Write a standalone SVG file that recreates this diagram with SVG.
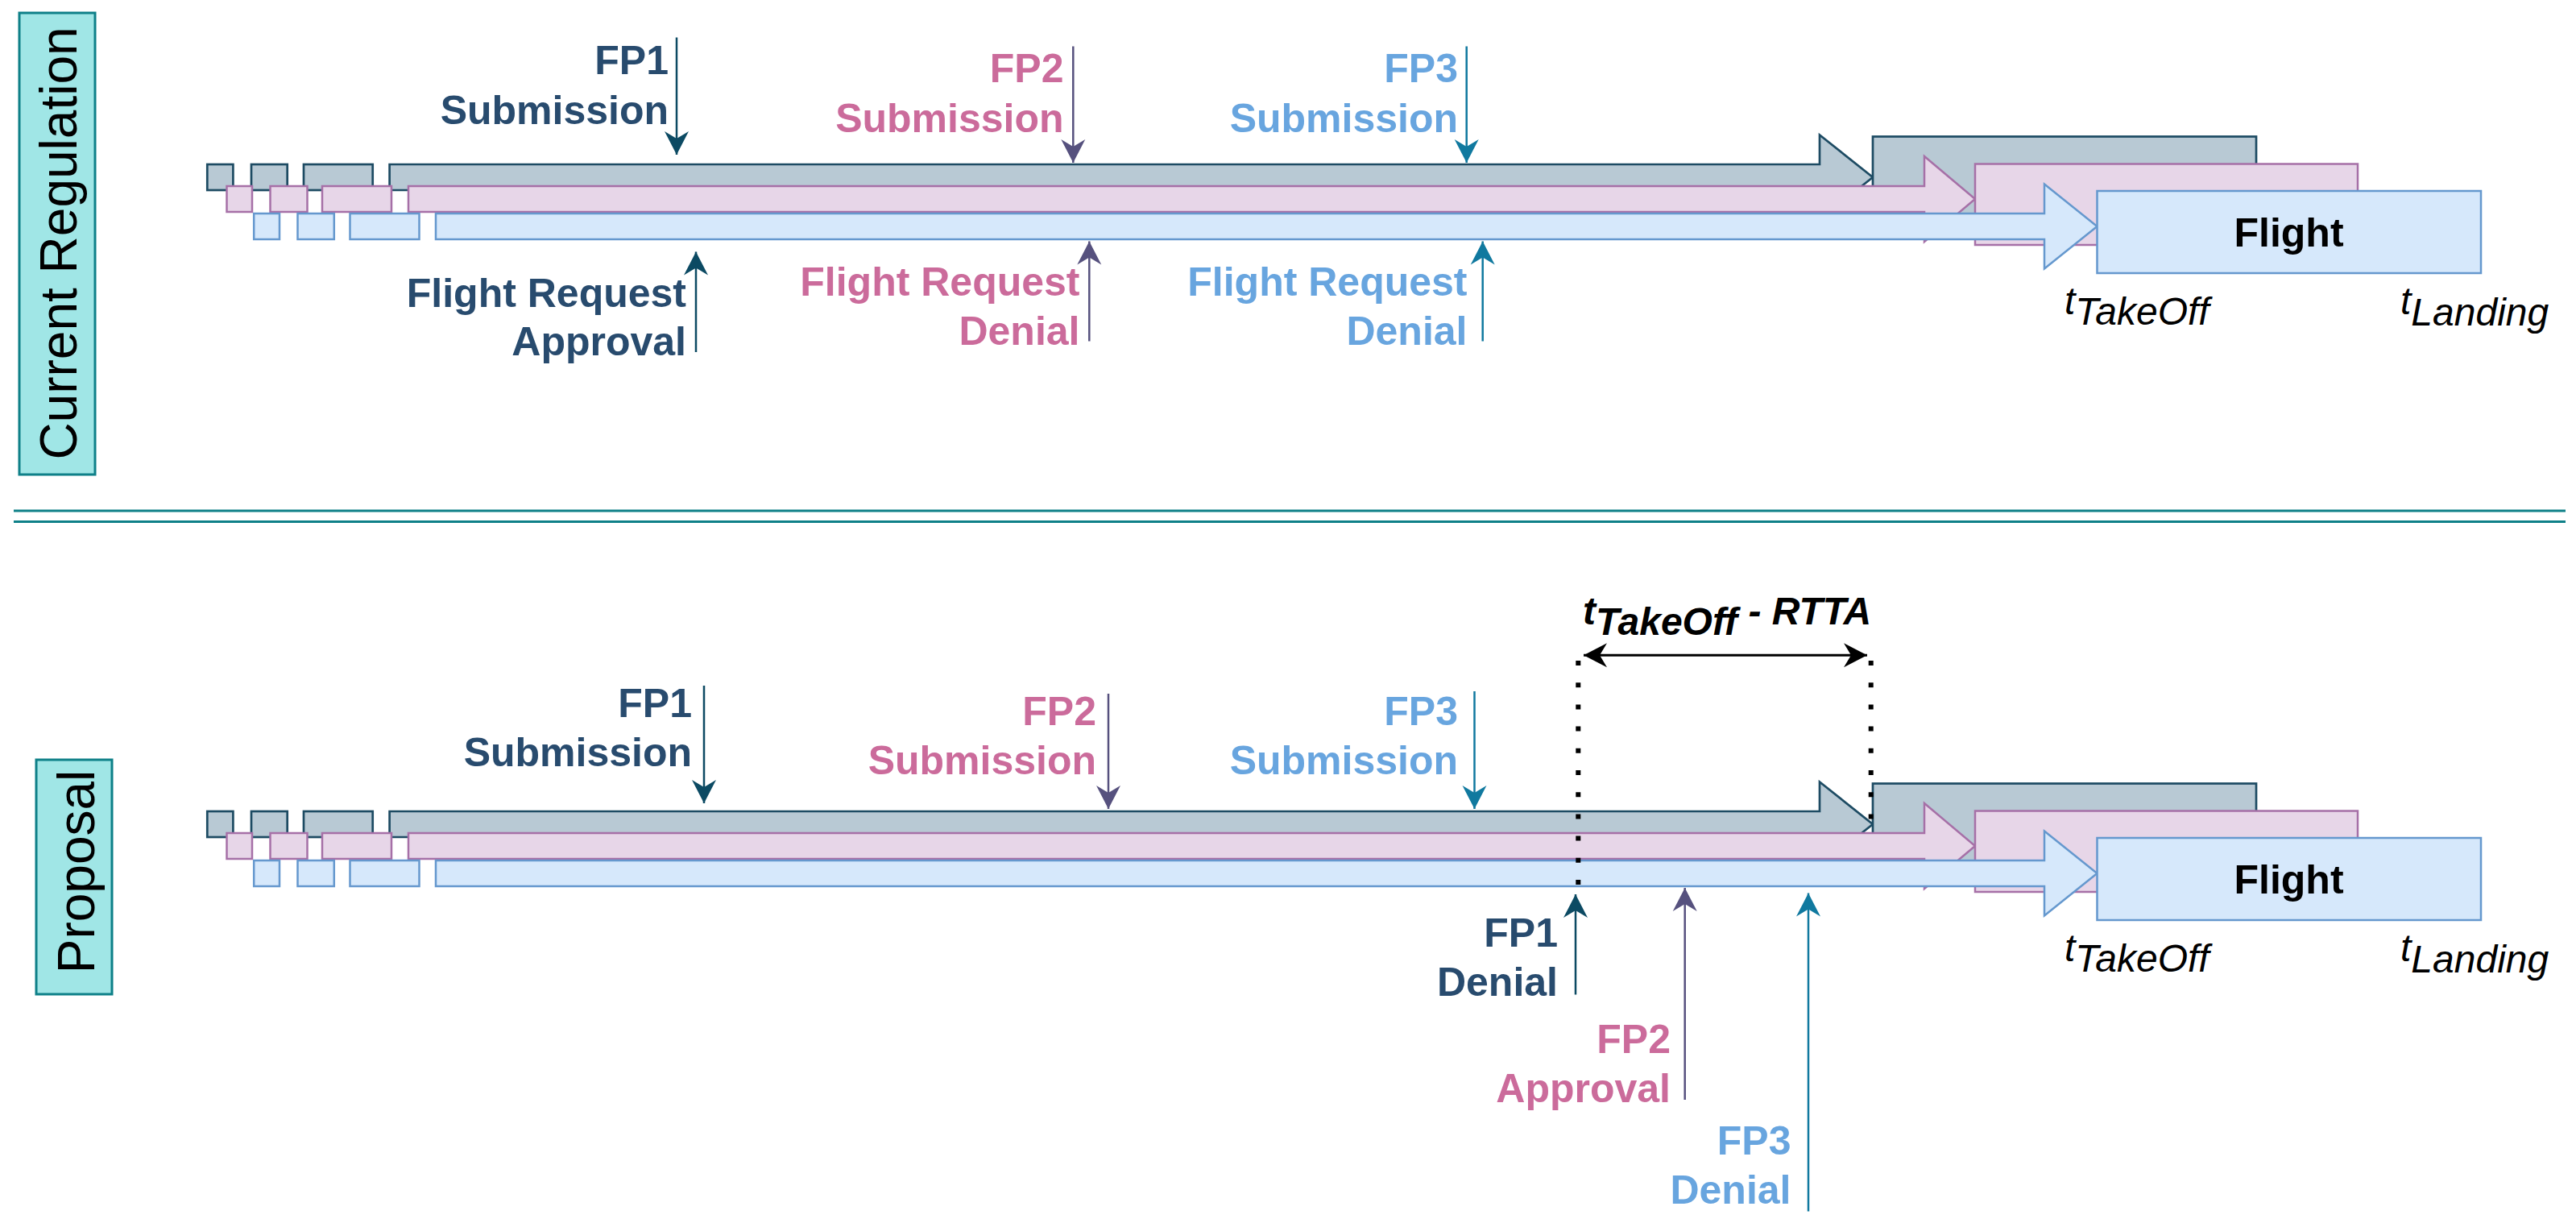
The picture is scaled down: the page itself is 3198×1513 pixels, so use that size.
<svg xmlns="http://www.w3.org/2000/svg" width="3198" height="1513" viewBox="0 0 3198 1513">
<style>
.lbl{font-family:"Liberation Sans",Arial,Helvetica,sans-serif;font-weight:bold;font-size:50px;text-anchor:end}
.dk{fill:#284B6E}.pk{fill:#CB6B9B}.bl{fill:#68A5DF}
.tl{font-family:"Liberation Sans",Arial,Helvetica,sans-serif;font-style:italic;font-size:48px;fill:#000}
.ttl{font-family:"Liberation Sans",Arial,Helvetica,sans-serif;font-size:64px;fill:#000;text-anchor:middle}
.fl{font-family:"Liberation Sans",Arial,Helvetica,sans-serif;font-weight:bold;font-size:50px;fill:#000;text-anchor:middle}
.rowD{fill:#B8C9D4;stroke:#1D4B63;stroke-width:2.7}
.rowP{fill:#E7D6E8;stroke:#A670A7;stroke-width:2.5}
.rowB{fill:#D6E8FB;stroke:#6598CE;stroke-width:2.5}
.box{fill:#A0E6E6;stroke:#0E8088;stroke-width:3}
.sep{stroke:#0E8088;stroke-width:3;fill:none}
.aD{stroke:#0C4A63;stroke-width:2.5;fill:none;marker-end:url(#mD)}
.aP{stroke:#56517E;stroke-width:2.5;fill:none;marker-end:url(#mP)}
.aT{stroke:#10799F;stroke-width:2.5;fill:none;marker-end:url(#mT)}
.dbl{stroke:#000;stroke-width:3;fill:none;marker-start:url(#mK);marker-end:url(#mK)}
.dot{stroke:#000;stroke-width:6;fill:none;stroke-dasharray:6 21.2}
</style>
<defs>
<marker id="mD" viewBox="-30 -16 32 32" markerWidth="32" markerHeight="32" refX="0" refY="0" orient="auto" markerUnits="userSpaceOnUse"><path d="M0,0 L-29,-15 L-20,0 L-29,15 Z" fill="#0C4A63"/></marker>
<marker id="mP" viewBox="-30 -16 32 32" markerWidth="32" markerHeight="32" refX="0" refY="0" orient="auto" markerUnits="userSpaceOnUse"><path d="M0,0 L-29,-15 L-20,0 L-29,15 Z" fill="#56517E"/></marker>
<marker id="mT" viewBox="-30 -16 32 32" markerWidth="32" markerHeight="32" refX="0" refY="0" orient="auto" markerUnits="userSpaceOnUse"><path d="M0,0 L-29,-15 L-20,0 L-29,15 Z" fill="#10799F"/></marker>
<marker id="mK" viewBox="-30 -16 32 32" markerWidth="32" markerHeight="32" refX="0" refY="0" orient="auto-start-reverse" markerUnits="userSpaceOnUse"><path d="M0,0 L-29,-15 L-20,0 L-29,15 Z" fill="#000"/></marker>
<g id="timeline">
<rect class="rowD" x="257.3" y="204" width="32.1" height="32"/>
<rect class="rowD" x="312" y="204" width="44.7" height="32"/>
<rect class="rowD" x="377" y="204" width="85.7" height="32"/>
<path class="rowD" d="M483.6,204 H2259 V167.5 L2325,220 L2259,272.5 V236 H483.6 Z"/>
<rect class="rowD" x="2325" y="169.5" width="476" height="102"/>
<rect class="rowP" x="281.5" y="231" width="31.5" height="32"/>
<rect class="rowP" x="335.5" y="231" width="46" height="32"/>
<rect class="rowP" x="400" y="231" width="86" height="32"/>
<path class="rowP" d="M507,231 H2389 V194 L2452,247 L2389,300 V263 H507 Z"/>
<rect class="rowP" x="2452" y="203.5" width="475" height="100.5"/>
<rect class="rowB" x="315.2" y="265" width="31.8" height="32"/>
<rect class="rowB" x="369.5" y="265" width="45.3" height="32"/>
<rect class="rowB" x="434.5" y="265" width="86" height="32"/>
<path class="rowB" d="M541,265 H2538 V228.5 L2603.5,281 L2538,333.5 V297 H541 Z"/>
<rect class="rowB" x="2603.5" y="237" width="476.5" height="102"/>
<text class="fl" x="2841.5" y="305.5">Flight</text>
<text class="tl" x="2563" y="390">t<tspan dy="13">TakeOff</tspan></text>
<text class="tl" x="2980" y="390">t<tspan dy="14">Landing</tspan></text>
</g>
</defs>

<g id="label-current">
<rect class="box" x="24" y="16" width="94" height="573"/>
<text class="ttl" transform="translate(95,302) rotate(-90)" x="0" y="0">Current Regulation</text>
</g>
<g id="label-proposal">
<rect class="box" x="45" y="943" width="94" height="291"/>
<text class="ttl" transform="translate(117,1082) rotate(-90)" x="0" y="0">Proposal</text>
</g>
<g id="separator">
<line class="sep" x1="17" y1="634" x2="3185" y2="634"/>
<line class="sep" x1="17" y1="647.5" x2="3185" y2="647.5"/>
</g>

<g id="timeline-current"><use href="#timeline"/></g>
<g id="timeline-proposal"><use href="#timeline" transform="translate(0,803)"/></g>

<g id="cur-fp1-sub"><text class="lbl dk" x="830" y="92">FP1</text><text class="lbl dk" x="830" y="153.5">Submission</text></g>
<g id="cur-fp2-sub"><text class="lbl pk" x="1320.5" y="102">FP2</text><text class="lbl pk" x="1320.5" y="163.5">Submission</text></g>
<g id="cur-fp3-sub"><text class="lbl bl" x="1810" y="102">FP3</text><text class="lbl bl" x="1810" y="163.5">Submission</text></g>
<g id="cur-fr-approval"><text class="lbl dk" x="852" y="380.5">Flight Request</text><text class="lbl dk" x="852" y="441">Approval</text></g>
<g id="cur-fr-denial-2"><text class="lbl pk" x="1340.5" y="366.5">Flight Request</text><text class="lbl pk" x="1340.5" y="427.5">Denial</text></g>
<g id="cur-fr-denial-3"><text class="lbl bl" x="1821.5" y="366.5">Flight Request</text><text class="lbl bl" x="1821.5" y="427.5">Denial</text></g>

<g id="rtta-label"><text class="tl" style="font-weight:bold" x="1965" y="775">t<tspan dy="13">TakeOff</tspan><tspan dy="-13"> - RTTA</tspan></text></g>
<g id="pro-fp1-sub"><text class="lbl dk" x="859" y="890">FP1</text><text class="lbl dk" x="859" y="950.5">Submission</text></g>
<g id="pro-fp2-sub"><text class="lbl pk" x="1361" y="900">FP2</text><text class="lbl pk" x="1361" y="960.5">Submission</text></g>
<g id="pro-fp3-sub"><text class="lbl bl" x="1810" y="899.5">FP3</text><text class="lbl bl" x="1810" y="961">Submission</text></g>
<g id="pro-fp1-denial"><text class="lbl dk" x="1934" y="1175">FP1</text><text class="lbl dk" x="1934" y="1236">Denial</text></g>
<g id="pro-fp2-approval"><text class="lbl pk" x="2074" y="1306.5">FP2</text><text class="lbl pk" x="2074" y="1368">Approval</text></g>
<g id="pro-fp3-denial"><text class="lbl bl" x="2223.5" y="1432.5">FP3</text><text class="lbl bl" x="2223.5" y="1493.5">Denial</text></g>

<g id="connectors">
<line class="aD" x1="840" y1="46.5" x2="840" y2="192"/>
<line class="aP" x1="1332.3" y1="57.5" x2="1332.3" y2="202"/>
<line class="aT" x1="1820.7" y1="57.5" x2="1820.7" y2="202"/>
<line class="aD" x1="864" y1="437" x2="864" y2="312.5"/>
<line class="aP" x1="1352.3" y1="423.5" x2="1352.3" y2="299.5"/>
<line class="aT" x1="1840.7" y1="423.5" x2="1840.7" y2="299.5"/>
<line class="aD" x1="874" y1="851" x2="874" y2="997"/>
<line class="aP" x1="1376" y1="861" x2="1376" y2="1004"/>
<line class="aT" x1="1830.5" y1="858" x2="1830.5" y2="1004"/>
<line class="aD" x1="1956" y1="1234.5" x2="1956" y2="1110"/>
<line class="aP" x1="2091.7" y1="1365" x2="2091.7" y2="1102"/>
<line class="aT" x1="2245" y1="1503.5" x2="2245" y2="1108.5"/>
<line class="dbl" x1="1966" y1="813.3" x2="2318" y2="813.3"/>
<line class="dot" x1="1959.3" y1="820" x2="1959.3" y2="1100"/>
<line class="dot" x1="2322.7" y1="820" x2="2322.7" y2="1022"/>
</g>
</svg>
